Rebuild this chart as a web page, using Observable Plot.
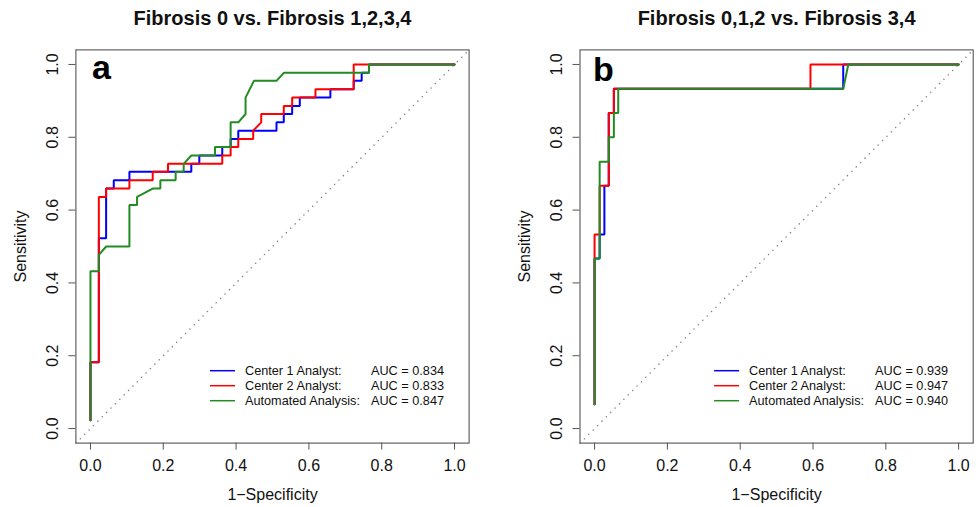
<!DOCTYPE html>
<html>
<head>
<meta charset="utf-8">
<script src="https://cdn.jsdelivr.net/npm/d3@7"></script>
<script src="https://cdn.jsdelivr.net/npm/@observablehq/plot@0.6"></script>
<style>
  html, body { margin: 0; padding: 0; background: #fff; }
  #wrap { display: flex; width: 980px; height: 507px; }
</style>
</head>
<body>
<div id="wrap"></div>
<script>
// ---------- data ----------
const titles = ["Fibrosis 0 vs. Fibrosis 1,2,3,4", "Fibrosis 0,1,2 vs. Fibrosis 3,4"];
const panelLetters = ["a", "b"];
const seriesNames = ["Center 1 Analyst:", "Center 2 Analyst:", "Automated Analysis:"];
const seriesColors = ["#0000ff", "#ff0000", "#228b22"];
const aucA = ["AUC = 0.834", "AUC = 0.833", "AUC = 0.847"];
const aucB = ["AUC = 0.939", "AUC = 0.947", "AUC = 0.940"];
const tickValues = [0, 0.2, 0.4, 0.6, 0.8, 1.0];
const axisDomain = [-0.04, 1.04];
const xLabel = "1\u2212Specificity";
const yLabel = "Sensitivity";

// Panel a: Center 1 (blue)
const aBlueFpr = [0, 0, 0.023, 0.023, 0.043, 0.043, 0.064, 0.064, 0.107, 0.107, 0.277, 0.277, 0.299, 0.299, 0.362, 0.362, 0.385, 0.385, 0.406, 0.406, 0.511, 0.511, 0.531, 0.531, 0.554, 0.554, 0.575, 0.575, 0.659, 0.659, 0.723, 0.723, 0.745, 0.745, 0.765, 0.765, 1];
const aBlueTpr = [0.023, 0.182, 0.182, 0.523, 0.523, 0.659, 0.659, 0.682, 0.682, 0.705, 0.705, 0.727, 0.727, 0.75, 0.75, 0.773, 0.773, 0.795, 0.795, 0.818, 0.818, 0.841, 0.841, 0.864, 0.864, 0.886, 0.886, 0.909, 0.909, 0.932, 0.932, 0.955, 0.955, 0.977, 0.977, 1, 1];
// Panel a: Center 2 (red)
const aRedFpr = [0, 0, 0.023, 0.023, 0.043, 0.043, 0.107, 0.107, 0.171, 0.171, 0.213, 0.213, 0.362, 0.362, 0.385, 0.385, 0.406, 0.406, 0.447, 0.447, 0.469, 0.469, 0.531, 0.531, 0.554, 0.554, 0.618, 0.618, 0.723, 0.723, 0.765, 1];
const aRedTpr = [0.023, 0.182, 0.182, 0.636, 0.636, 0.659, 0.659, 0.682, 0.682, 0.705, 0.705, 0.727, 0.727, 0.75, 0.75, 0.773, 0.773, 0.795, 0.795, 0.818, 0.841, 0.864, 0.864, 0.886, 0.886, 0.909, 0.909, 0.932, 0.932, 1, 1, 1];
// Panel a: Automated (green)
const aGreenFpr = [0, 0, 0.023, 0.023, 0.043, 0.107, 0.107, 0.128, 0.128, 0.171, 0.192, 0.192, 0.234, 0.234, 0.256, 0.256, 0.277, 0.342, 0.342, 0.385, 0.385, 0.406, 0.426, 0.426, 0.449, 0.511, 0.531, 0.765, 0.765, 1];
const aGreenTpr = [0.023, 0.432, 0.432, 0.477, 0.5, 0.5, 0.614, 0.614, 0.636, 0.659, 0.659, 0.682, 0.682, 0.705, 0.705, 0.727, 0.75, 0.75, 0.773, 0.773, 0.841, 0.841, 0.864, 0.909, 0.955, 0.955, 0.977, 0.977, 1, 1];

// Panel b: Center 1 (blue)
const bBlueFpr = [0, 0, 0.014, 0.014, 0.027, 0.027, 0.039, 0.039, 0.053, 0.053, 0.683, 0.683, 1];
const bBlueTpr = [0.067, 0.467, 0.467, 0.533, 0.533, 0.667, 0.667, 0.867, 0.867, 0.933, 0.933, 1, 1];
// Panel b: Center 2 (red)
const bRedFpr = [0, 0, 0.014, 0.014, 0.039, 0.039, 0.053, 0.053, 0.065, 0.593, 0.593, 1];
const bRedTpr = [0.067, 0.533, 0.533, 0.667, 0.667, 0.867, 0.867, 0.933, 0.933, 0.933, 1, 1];
// Panel b: Automated (green)
const bGreenFpr = [0, 0, 0.014, 0.014, 0.039, 0.039, 0.053, 0.053, 0.065, 0.065, 0.683, 0.697, 1];
const bGreenTpr = [0.067, 0.467, 0.467, 0.733, 0.733, 0.8, 0.8, 0.867, 0.867, 0.933, 0.933, 1, 1];

// ---------- helpers ----------
const zip = (xs, ys) => xs.map((x, i) => ({fpr: x, tpr: ys[i]}));
const fmt = d3.format(".1f");
const FONT = "'Liberation Sans', Arial, Helvetica, sans-serif";

function legendMark(aucs) {
  return (index, scales, values, dims) => {
    const g = d3.create("svg:g")
      .attr("font-family", FONT)
      .style("font-size", "12.7px")
      .attr("text-anchor", "start")
      .attr("fill", "#111");
    const x0 = dims.marginLeft;
    const yb = dims.height - dims.marginBottom;
    seriesNames.forEach((name, i) => {
      const y = yb - 71.9 + i * 15;
      g.append("line").attr("x1", x0 + 134.6).attr("x2", x0 + 159.6)
        .attr("y1", y).attr("y2", y).attr("stroke", seriesColors[i]).attr("stroke-width", 1.5);
      g.append("text").attr("x", x0 + 169.6).attr("y", y).attr("dy", "0.36em").attr("text-anchor", "start").text(name);
      g.append("text").attr("x", x0 + 295.6).attr("y", y).attr("dy", "0.36em").attr("text-anchor", "start").text(aucs[i]);
    });
    return g.node();
  };
}

function panel({title, letter, letterDx, letterBaseline, curves, aucs, marginLeft, marginRight}) {
  const marginTop = 49.4, marginBottom = 64.4;
  return Plot.plot({
    width: 490,
    height: 507,
    marginLeft, marginRight, marginTop, marginBottom,
    style: {fontFamily: FONT, background: "white", color: "#111", overflow: "visible"},
    x: {domain: axisDomain, axis: null},
    y: {domain: axisDomain, axis: null},
    marks: [
      Plot.link([0], {x1: axisDomain[0], y1: axisDomain[0], x2: axisDomain[1], y2: axisDomain[1],
        stroke: "#808080", strokeWidth: 1.4, strokeDasharray: "0.1 6.1", strokeLinecap: "round"}),
      ...curves.map((c, i) => Plot.line(c, {x: "fpr", y: "tpr", stroke: seriesColors[i], strokeWidth: 2, strokeLinejoin: "miter"})),
      Plot.frame({stroke: "#555", strokeWidth: 1.1}),
      Plot.axisX({ticks: tickValues, tickSize: 7, tickFormat: () => "", stroke: "#555", label: null}),
      Plot.axisY({ticks: tickValues, tickSize: 7, tickFormat: () => "", stroke: "#555", label: null}),
      Plot.text(tickValues, {x: d => d, frameAnchor: "bottom", dy: 22.4, lineAnchor: "middle", text: fmt, fontSize: 16, fill: "#111"}),
      Plot.text(tickValues, {y: d => d, frameAnchor: "left", dx: -23, rotate: -90, lineAnchor: "middle", textAnchor: "middle", text: fmt, fontSize: 16, fill: "#111"}),
      Plot.text([xLabel], {frameAnchor: "bottom", dy: 51.5, lineAnchor: "middle", fontSize: 16, fill: "#111"}),
      Plot.text([yLabel], {frameAnchor: "left", dx: -55.4, rotate: -90, lineAnchor: "middle", textAnchor: "middle", fontSize: 16, fill: "#111"}),
      Plot.text([title], {frameAnchor: "top", dy: 24.5 - marginTop, lineAnchor: "bottom", fontSize: 20, fontWeight: "bold", fill: "#111"}),
      Plot.text([letter], {frameAnchor: "top-left", dx: letterDx, dy: letterBaseline - marginTop, lineAnchor: "bottom", textAnchor: "start", fontSize: 34, fontWeight: "bold", fill: "#000"}),
      legendMark(aucs)
    ]
  });
}

const wrap = document.getElementById("wrap");
wrap.append(panel({
  title: titles[0], letter: panelLetters[0], letterDx: 16.2, letterBaseline: 78,
  curves: [zip(aBlueFpr, aBlueTpr), zip(aRedFpr, aRedTpr), zip(aGreenFpr, aGreenTpr)],
  aucs: aucA, marginLeft: 75.4, marginRight: 21.4
}));
wrap.append(panel({
  title: titles[1], letter: panelLetters[1], letterDx: 13.1, letterBaseline: 80.5,
  curves: [zip(bBlueFpr, bBlueTpr), zip(bRedFpr, bRedTpr), zip(bGreenFpr, bGreenTpr)],
  aucs: aucB, marginLeft: 89.5, marginRight: 7.3
}));
</script>
</body>
</html>
